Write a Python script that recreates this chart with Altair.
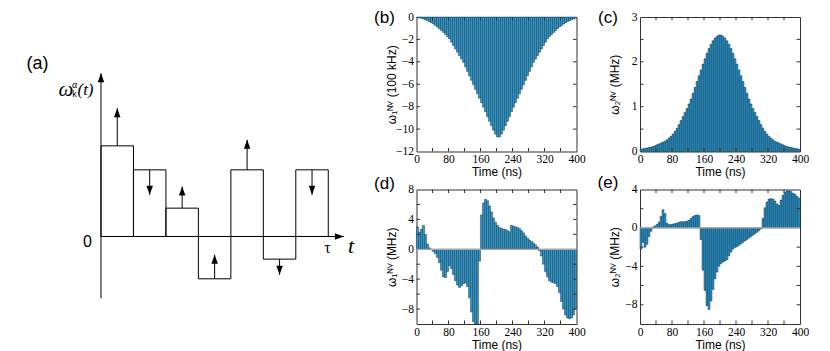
import altair as alt
import pandas as pd

# ---------------- data ----------------
time_start = list(range(0, 400, 5))   # 5 ns segments
bin_ns = 5

w1_b = [-0.05, -0.08, -0.12, -0.18, -0.25, -0.33, -0.42, -0.52, -0.63, -0.76,
        -0.90, -1.05, -1.21, -1.38, -1.56, -1.75, -1.95, -2.25, -2.55, -2.85,
        -3.15, -3.45, -3.75, -4.05, -4.45, -4.85, -5.25, -5.65, -6.05, -6.45,
        -6.85, -7.25, -7.65, -8.05, -8.45, -8.90, -9.30, -9.70, -10.10, -10.45,
        -10.70, -10.70, -10.45, -10.10, -9.70, -9.30, -8.90, -8.45, -8.05, -7.65,
        -7.25, -6.85, -6.45, -6.05, -5.65, -5.25, -4.85, -4.45, -4.05, -3.75,
        -3.45, -3.15, -2.85, -2.55, -2.25, -1.95, -1.75, -1.56, -1.38, -1.21,
        -1.05, -0.90, -0.76, -0.63, -0.52, -0.42, -0.33, -0.25, -0.18, -0.12]

w2_c = [0.05, 0.06, 0.07, 0.08, 0.09, 0.10, 0.11, 0.13, 0.15, 0.17,
        0.19, 0.21, 0.23, 0.26, 0.30, 0.34, 0.39, 0.45, 0.52, 0.60,
        0.69, 0.78, 0.87, 0.96, 1.06, 1.17, 1.30, 1.43, 1.56, 1.69,
        1.82, 1.95, 2.07, 2.19, 2.30, 2.39, 2.47, 2.53, 2.57, 2.60,
        2.60, 2.57, 2.53, 2.47, 2.39, 2.30, 2.19, 2.07, 1.95, 1.82,
        1.69, 1.56, 1.43, 1.30, 1.17, 1.06, 0.96, 0.87, 0.78, 0.69,
        0.60, 0.52, 0.45, 0.39, 0.34, 0.30, 0.26, 0.23, 0.21, 0.19,
        0.17, 0.15, 0.13, 0.11, 0.10, 0.09, 0.08, 0.07, 0.06, 0.05]

w1_d = [3.0, 2.3, 2.7, 3.2, 2.0, 0.7, 0.2, -0.1, -0.3, -0.6,
        -1.1, -1.8, -2.8, -3.7, -3.8, -3.0, -2.2, -2.6, -3.4, -4.2,
        -4.8, -5.1, -4.9, -4.6, -4.5, -5.0, -6.5, -8.4, -9.7, -10.0,
        -10.0, -1.6, 4.6, 6.2, 6.7, 6.5, 5.8, 5.0, 4.2, 3.6,
        3.2, 2.9, 2.8, 2.7, 2.65, 2.5, 2.35, 3.2, 3.1, 3.0,
        2.9, 2.75, 2.5, 2.2, 1.8, 1.5, 1.25, 1.05, 0.85, 0.6,
        0.3, -0.2, -0.9, -2.0, -3.0, -3.7, -4.2, -4.4, -4.5, -4.6,
        -5.0, -5.8, -7.0, -8.0, -8.8, -9.2, -9.3, -9.2, -8.8, -8.0]

w2_e = [-2.2, -1.5, -2.0, -1.7, -0.9, -0.35, 0.1, 0.2, 0.35, 0.6,
        1.2, 1.9, 1.5, 0.5, 0.35, 0.35, 0.4, 0.45, 0.5, 0.6,
        0.65, 0.65, 0.65, 0.7, 0.8, 1.0, 1.2, 1.3, 1.35, 1.3,
        -1.2, -4.4, -6.5, -8.1, -8.5, -7.6, -6.4, -5.3, -4.6, -4.0,
        -3.7, -3.55, -3.45, -3.3, -2.9, -2.5, -2.2, -2.05, -1.95, -1.8,
        -1.65, -1.5, -1.35, -1.2, -1.05, -0.9, -0.75, -0.6, -0.45, -0.3,
        -0.1, 1.0, 2.1, 2.7, 3.0, 3.05, 3.0, 2.8, 2.5, 2.35,
        2.9, 3.4, 3.7, 3.85, 3.85, 3.8, 3.6, 3.5, 3.3, 3.1]

x_label_values = [0, 80, 160, 240, 320, 400]
x_tick_values = [40, 80, 120, 160, 200, 240, 280, 320, 360]

# panel (a) schematic
seg_start = [0, 1, 2, 3, 4, 5, 6]
seg_value = [2.72, 2.0, 0.85, -1.27, 2.0, -0.68, 2.0]
arrow_to = [3.85, 1.25, 1.5, -0.55, 2.9, -1.15, 1.25]
axis_x1 = [0, 0]
axis_x2 = [0, 7.48]
axis_y1 = [-1.86, 0]
axis_y2 = [4.9, 0]

# ---------------- style ----------------
PW, PH = 160, 134.5
AW = 343.5
FRAME = "#333333"
BAR_FILL = "#2f96c9"
BAR_STROKE = "#10303f"
TICK = 3.5

UP = "M0,0 L-0.36,1 L0.36,1 Z"
DOWN = "M0,0 L-0.36,-1 L0.36,-1 Z"
RIGHT = "M0,0 L-1,-0.36 L-1,0.36 Z"


def make_panel(vals, ydomain, ylabels, yticks, ytitle, letter, letter_y, zero_line):
    xs = alt.Scale(domain=[0, 400], nice=False, zero=False)
    ys = alt.Scale(domain=ydomain, nice=False, zero=False)
    xa = alt.Axis(values=x_label_values, title="Time (ns)", labelFlush=False,
                  minExtent=14, maxExtent=14, titlePadding=1, labelPadding=2)
    ya = alt.Axis(values=ylabels, title=ytitle, labelFlush=False,
                  minExtent=16, maxExtent=16, titlePadding=2.5, labelPadding=3)
    df = pd.DataFrame({"t0": time_start,
                       "t1": [t + bin_ns for t in time_start],
                       "v": vals})
    bars = alt.Chart(df).mark_rect(fill=BAR_FILL, stroke=BAR_STROKE, strokeWidth=0.45).encode(
        x=alt.X("t0:Q", scale=xs, axis=xa),
        x2="t1:Q",
        y=alt.Y("v:Q", scale=ys, axis=ya),
        y2=alt.datum(0),
    )
    layers = [bars]
    if zero_line:
        layers.append(
            alt.Chart(pd.DataFrame({"v": [0]})).mark_rule(color="#a8a8a8", strokeWidth=1.2).encode(
                y=alt.Y("v:Q", scale=ys, axis=ya)))
    xt = pd.DataFrame({"t0": x_tick_values})
    yt = pd.DataFrame({"v": yticks})
    layers += [
        alt.Chart(xt).mark_rule(color=FRAME, strokeWidth=1).encode(
            x=alt.X("t0:Q", scale=xs, axis=xa), y=alt.value(PH), y2=alt.value(PH - TICK)),
        alt.Chart(xt).mark_rule(color=FRAME, strokeWidth=1).encode(
            x=alt.X("t0:Q", scale=xs, axis=xa), y=alt.value(0), y2=alt.value(TICK)),
        alt.Chart(yt).mark_rule(color=FRAME, strokeWidth=1).encode(
            y=alt.Y("v:Q", scale=ys, axis=ya), x=alt.value(0), x2=alt.value(TICK)),
        alt.Chart(yt).mark_rule(color=FRAME, strokeWidth=1).encode(
            y=alt.Y("v:Q", scale=ys, axis=ya), x=alt.value(PW), x2=alt.value(PW - TICK)),
        alt.Chart(pd.DataFrame({"lab": [letter]})).mark_text(
            font="Liberation Sans", fontSize=17, align="center", baseline="middle", color="black"
        ).encode(x=alt.value(-32), y=alt.value(letter_y), text="lab:N"),
    ]
    return alt.layer(*layers).properties(width=PW, height=PH)


Pb = make_panel(w1_b, [-12, 0], [0, -2, -4, -6, -8, -10, -12], [-2, -4, -6, -8, -10],
                "ω₁ᴺⱽ (100 kHz)", "(b)", 1, False)
Pc = make_panel(w2_c, [0, 3], [0, 1, 2, 3], [0.5, 1, 1.5, 2, 2.5],
                "ω₂ᴺⱽ (MHz)", "(c)", 1, False)
Pd = make_panel(w1_d, [-10, 8], [-8, -4, 0, 4, 8], [-8, -6, -4, -2, 2, 4, 6],
                "ω₁ᴺⱽ (MHz)", "(d)", -6, True)
Pe = make_panel(w2_e, [-10, 4], [-8, -4, 0, 4], [-8, -6, -4, -2, 2],
                "ω₂ᴺⱽ (MHz)", "(e)", -6.5, True)

# ---- panel (a) ----
ax_s = alt.Scale(domain=[-2.8334, 7.746], nice=False, zero=False)
ay_s = alt.Scale(domain=[2.55, 6.586], nice=False, zero=False)

seg_df = pd.DataFrame({"s": seg_start, "e": [s + 1 for s in seg_start], "v": seg_value})
arr_df = pd.DataFrame({"xc": [s + 0.5 for s in seg_start], "v": seg_value, "to": arrow_to,
                       "shape": [UP if b > a else DOWN for a, b in zip(seg_value, arrow_to)]})
axes_df = pd.DataFrame({"s": axis_x1, "e": axis_x2, "v": axis_y1, "to": axis_y2})
axhead_df = pd.DataFrame({"xc": [axis_x1[0], axis_x2[1]], "to": [axis_y2[0], axis_y2[1]],
                          "shape": [UP, RIGHT]})

rects = alt.Chart(seg_df).mark_rect(fill="transparent", stroke="black", strokeWidth=1).encode(
    x=alt.X("s:Q", scale=ax_s, axis=None), x2="e:Q",
    y=alt.Y("v:Q", scale=ay_s, axis=None), y2=alt.datum(0))
shafts = alt.Chart(arr_df).mark_rule(color="black", strokeWidth=1).encode(
    x=alt.X("xc:Q", scale=ax_s, axis=None),
    y=alt.Y("v:Q", scale=ay_s, axis=None), y2="to:Q")
heads = alt.Chart(arr_df).mark_point(filled=True, color="black", size=324, strokeWidth=0, opacity=1).encode(
    x=alt.X("xc:Q", scale=ax_s, axis=None),
    y=alt.Y("to:Q", scale=ay_s, axis=None),
    shape=alt.Shape("shape:N", scale=None))
axes_lines = alt.Chart(axes_df).mark_rule(color="black", strokeWidth=1).encode(
    x=alt.X("s:Q", scale=ax_s, axis=None), x2="e:Q",
    y=alt.Y("v:Q", scale=ay_s, axis=None), y2="to:Q")
axes_heads = alt.Chart(axhead_df).mark_point(filled=True, color="black", size=324, strokeWidth=0, opacity=1).encode(
    x=alt.X("xc:Q", scale=ax_s, axis=None),
    y=alt.Y("to:Q", scale=ay_s, axis=None),
    shape=alt.Shape("shape:N", scale=None))


def label(txt, x, y, size, font="Liberation Sans", style="normal"):
    return alt.Chart(pd.DataFrame({"lab": [txt]})).mark_text(
        font=font, fontSize=size, fontStyle=style, align="center", baseline="middle", color="black"
    ).encode(x=alt.value(x), y=alt.value(y), text="lab:N")


A = alt.layer(
    rects, axes_lines, shafts, heads, axes_heads,
    label("(a)", 28.5, 46.5, 18),
    label("ω", 57, 72.5, 21, "Liberation Serif", "italic"),
    label("α", 65.5, 68, 9),
    label("k", 65.5, 77, 9),
    label("(t)", 76.5, 72.5, 17, "Liberation Serif", "italic"),
    label("0", 78.5, 224.5, 16),
    label("τ", 318.5, 230.5, 16, "Liberation Serif"),
    label("t", 342, 228.5, 22, "Liberation Serif", "italic"),
).properties(width=AW, height=PH, view=alt.ViewBackground(stroke="transparent"))

blank = alt.Chart(pd.DataFrame({"v": [0]})).mark_point(opacity=0, size=1).encode(
    x=alt.value(AW / 2), y=alt.value(PH / 2)
).properties(width=AW, height=PH, view=alt.ViewBackground(stroke="transparent"))

chart = alt.concat(
    A, Pb, Pc, blank, Pd, Pe,
    columns=3, spacing={"row": 37.5, "column": 63.5}, bounds="flush"
).properties(padding=0).configure_view(
    stroke=FRAME, strokeWidth=1
).configure_axis(
    labelFont="Liberation Serif", labelFontSize=11.5, labelColor="black",
    titleFont="Liberation Sans", titleFontSize=12, titleFontWeight="normal", titleColor="black",
    ticks=False, domain=False, grid=False
)

chart.save("out.html", embed_options={"renderer": "svg", "actions": False})
